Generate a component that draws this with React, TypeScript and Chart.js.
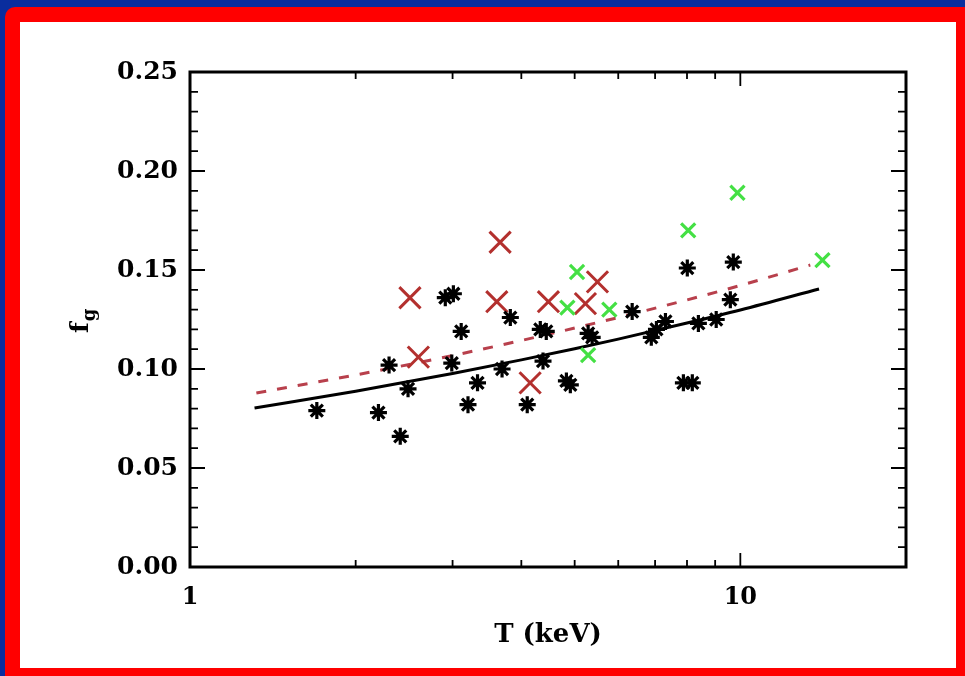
import React, { useEffect, useRef } from 'react';
import { Chart, registerables } from 'chart.js';

Chart.register(...registerables);

// ---- data ----
const blackT = [1.70, 2.20, 2.30, 2.41, 2.49, 2.91, 3.01, 2.99, 3.11, 3.20, 3.33, 3.69, 3.82, 4.10, 4.33, 4.44, 4.38, 4.83, 4.91, 5.29, 5.38, 6.36, 6.89, 7.04, 7.31, 8.01, 7.88, 8.18, 8.39, 9.04, 9.59, 9.71];
const blackF = [0.079, 0.078, 0.102, 0.066, 0.090, 0.136, 0.138, 0.103, 0.119, 0.082, 0.093, 0.100, 0.126, 0.082, 0.120, 0.119, 0.104, 0.094, 0.092, 0.118, 0.116, 0.129, 0.116, 0.120, 0.124, 0.151, 0.093, 0.093, 0.123, 0.125, 0.135, 0.154];

const redT = [2.51, 2.60, 3.66, 3.61, 4.15, 4.48, 5.23, 5.50];
const redF = [0.136, 0.106, 0.164, 0.134, 0.093, 0.134, 0.133, 0.144];

const greenT = [4.85, 5.05, 5.29, 5.78, 8.04, 9.88, 14.1];
const greenF = [0.131, 0.149, 0.107, 0.130, 0.170, 0.189, 0.155];

const fitT = [1.31, 2, 3, 4, 5, 6, 8, 10, 13.9];
const fitF = [0.0803, 0.0888, 0.0977, 0.1046, 0.1102, 0.1151, 0.1232, 0.1298, 0.1404];

const dashT = [1.32, 2, 3, 4, 6, 8, 10, 13.4];
const dashF = [0.0879, 0.0970, 0.1068, 0.1144, 0.1260, 0.1349, 0.1422, 0.1525];

const xMajorTicks = [1, 10];
const xMinorTicks = [2, 3, 4, 5, 6, 7, 8, 9, 20];
const yMajorTicks = [0, 0.05, 0.10, 0.15, 0.20, 0.25];
const yMinorTicks = [0.01, 0.02, 0.03, 0.04, 0.06, 0.07, 0.08, 0.09, 0.11, 0.12, 0.13, 0.14, 0.16, 0.17, 0.18, 0.19, 0.21, 0.22, 0.23, 0.24];

const xTitle = 'T (keV)';
const yTitleMain = 'f';
const yTitleSub = 'g';

const toXY = (xs: number[], ys: number[]) => xs.map((x, i) => ({ x, y: ys[i] }));

const FONT = '"DejaVu Serif", serif';

const framePlugin = {
  id: 'idlFrame',
  afterDraw(chart: any) {
    const { ctx, chartArea: a, scales } = chart;
    const xs = scales.x;
    const ys = scales.y;
    ctx.save();
    ctx.strokeStyle = '#000';
    ctx.lineWidth = 1.8;
    ctx.beginPath();
    for (const v of yMajorTicks) {
      const p = ys.getPixelForValue(v);
      ctx.moveTo(a.left, p); ctx.lineTo(a.left + 15, p);
      ctx.moveTo(a.right, p); ctx.lineTo(a.right - 15, p);
    }
    for (const v of yMinorTicks) {
      const p = ys.getPixelForValue(v);
      ctx.moveTo(a.left, p); ctx.lineTo(a.left + 8, p);
      ctx.moveTo(a.right, p); ctx.lineTo(a.right - 8, p);
    }
    for (const v of xMajorTicks) {
      const p = xs.getPixelForValue(v);
      ctx.moveTo(p, a.bottom); ctx.lineTo(p, a.bottom - 14);
      ctx.moveTo(p, a.top); ctx.lineTo(p, a.top + 14);
    }
    for (const v of xMinorTicks) {
      const p = xs.getPixelForValue(v);
      ctx.moveTo(p, a.bottom); ctx.lineTo(p, a.bottom - 7);
      ctx.moveTo(p, a.top); ctx.lineTo(p, a.top + 7);
    }
    ctx.stroke();
    ctx.lineWidth = 3;
    ctx.strokeRect(a.left, a.top, a.right - a.left, a.bottom - a.top);

    // x title
    ctx.fillStyle = '#000';
    ctx.font = `bold 26px ${FONT}`;
    ctx.textAlign = 'center';
    ctx.textBaseline = 'middle';
    ctx.fillText(xTitle, (a.left + a.right) / 2, 635);

    // y title (f with subscript g), rotated
    ctx.translate(88, 333);
    ctx.rotate(-Math.PI / 2);
    ctx.textAlign = 'left';
    ctx.textBaseline = 'alphabetic';
    ctx.font = `bold 25px ${FONT}`;
    ctx.fillText(yTitleMain, 0, 0);
    const w = ctx.measureText(yTitleMain).width;
    ctx.font = `bold 18px ${FONT}`;
    ctx.fillText(yTitleSub, w + 1, 7);
    ctx.restore();
  },
};

export default function App() {
  const ref = useRef<HTMLCanvasElement>(null);

  useEffect(() => {
    document.body.style.margin = '0';
    const chart = new Chart(ref.current as HTMLCanvasElement, {
      type: 'scatter',
      data: {
        datasets: [
          {
            label: 'black',
            data: toXY(blackT, blackF),
            pointStyle: 'star',
            pointRadius: 8.5,
            borderWidth: 3.2,
            borderColor: '#000',
            backgroundColor: '#000',
            showLine: false,
            order: 1,
          },
          {
            label: 'red',
            data: toXY(redT, redF),
            pointStyle: 'crossRot',
            pointRadius: 15,
            borderWidth: 3,
            borderColor: '#b3302e',
            backgroundColor: '#b3302e',
            showLine: false,
            order: 2,
          },
          {
            label: 'green',
            data: toXY(greenT, greenF),
            pointStyle: 'crossRot',
            pointRadius: 10,
            borderWidth: 3.2,
            borderColor: '#44e044',
            backgroundColor: '#44e044',
            showLine: false,
            order: 0,
          },
          {
            label: 'fit',
            data: toXY(fitT, fitF),
            showLine: true,
            borderColor: '#000',
            borderWidth: 3,
            pointRadius: 0,
            cubicInterpolationMode: 'monotone',
            order: 4,
          } as any,
          {
            label: 'fit2',
            data: toXY(dashT, dashF),
            showLine: true,
            borderColor: '#b8404c',
            borderWidth: 3,
            borderDash: [10, 11],
            pointRadius: 0,
            cubicInterpolationMode: 'monotone',
            order: 3,
          } as any,
        ],
      },
      options: {
        animation: false,
        responsive: false,
        maintainAspectRatio: false,
        devicePixelRatio: 1,
        events: [],
        layout: { padding: { left: 0, top: 72, right: 59, bottom: 0 } },
        plugins: { legend: { display: false }, tooltip: { enabled: false } },
        scales: {
          x: {
            type: 'logarithmic',
            min: 1,
            max: 20,
            grid: { display: false, drawTicks: false, tickLength: 0 },
            border: { display: false },
            afterBuildTicks: (scale: any) => {
              scale.ticks = xMajorTicks.map((v) => ({ value: v }));
            },
            afterFit: (scale: any) => {
              scale.height = 109;
            },
            ticks: {
              autoSkip: false,
              maxRotation: 0,
              padding: 16,
              color: '#000',
              font: { family: FONT, size: 24, weight: 'bold' },
              callback: (v: any) => String(v),
            },
          },
          y: {
            type: 'linear',
            min: 0,
            max: 0.25,
            grid: { display: false, drawTicks: false, tickLength: 0 },
            border: { display: false },
            afterBuildTicks: (scale: any) => {
              scale.ticks = yMajorTicks.map((v) => ({ value: v }));
            },
            afterFit: (scale: any) => {
              scale.width = 190;
            },
            ticks: {
              padding: 12,
              color: '#000',
              font: { family: FONT, size: 25, weight: 'bold' },
              callback: (v: any) => Number(v).toFixed(2),
            },
          },
        },
      } as any,
      plugins: [framePlugin],
    });
    return () => chart.destroy();
  }, []);

  return (
    <div style={{ position: 'relative', width: 965, height: 676, background: '#0a2d9e', overflow: 'hidden' }}>
      <div style={{ position: 'absolute', left: 5, top: 7, right: 0, bottom: 0, background: '#ff0000', borderTopLeftRadius: 10 }} />
      <div style={{ position: 'absolute', left: 20, top: 22, width: 936, height: 646, background: '#ffffff' }} />
      <canvas ref={ref} width={965} height={676} style={{ position: 'absolute', left: 0, top: 0, width: 965, height: 676 }} />
    </div>
  );
}
